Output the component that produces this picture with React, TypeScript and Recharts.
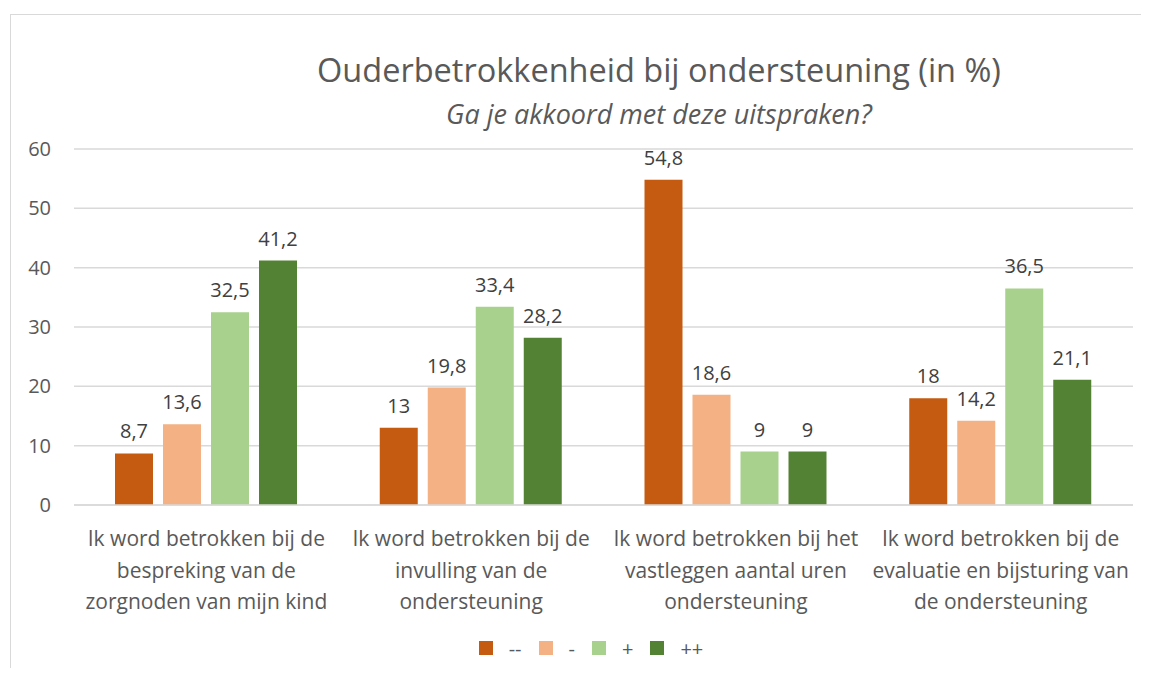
import React from "react";
import { BarChart, Bar, XAxis, YAxis, CartesianGrid, LabelList, Legend } from "recharts";

// Ouderbetrokkenheid bij ondersteuning — grouped bars, four answer levels per statement.

const categories = [
  "Ik word betrokken bij de\nbespreking van de\nzorgnoden van mijn kind",
  "Ik word betrokken bij de\ninvulling van de\nondersteuning",
  "Ik word betrokken bij het\nvastleggen aantal uren\nondersteuning",
  "Ik word betrokken bij de\nevaluatie en bijsturing van\nde ondersteuning",
];
const veryNegative = [8.7, 13, 54.8, 18];
const negative = [13.6, 19.8, 18.6, 14.2];
const positive = [32.5, 33.4, 9, 36.5];
const veryPositive = [41.2, 28.2, 9, 21.1];
const yTicks = [0, 10, 20, 30, 40, 50, 60];

const series = [
  { key: "vn", name: "--", color: "#C55A11" },
  { key: "n", name: "-", color: "#F4B183" },
  { key: "p", name: "+", color: "#A9D18E" },
  { key: "vp", name: "++", color: "#548235" },
];

const data = categories.map((c, i) => ({
  cat: c,
  vn: veryNegative[i],
  n: negative[i],
  p: positive[i],
  vp: veryPositive[i],
}));

const FONT = "'Open Sans', sans-serif";
const fmt = (v: any) => String(v).replace(".", ",");

function CatTick({ x, y, payload }: any) {
  const lines = String(payload.value).split("\n");
  return (
    <text x={x} y={y} textAnchor="middle" fill="#595959" fontSize={21} fontFamily={FONT}>
      {lines.map((l, i) => (
        <tspan key={i} x={x} dy={i === 0 ? 33 : 31.5}>
          {l}
        </tspan>
      ))}
    </text>
  );
}

function LegendBox() {
  return (
    <div style={{ display: "flex", justifyContent: "center", alignItems: "center", gap: 17, paddingLeft: 41, height: 24, fontFamily: FONT, fontSize: 20, color: "#595959" }}>
      {series.map((s) => (
        <div key={s.key} style={{ display: "flex", alignItems: "center" }}>
          <span style={{ width: 14, height: 14, background: s.color, display: "inline-block", marginRight: 16 }} />
          <span>{s.name}</span>
        </div>
      ))}
    </div>
  );
}

export default function App() {
  return (
    <div style={{ position: "relative", width: 1141, height: 660, fontFamily: FONT }}>
      <div style={{ position: "absolute", left: 2, top: 6, right: -20, bottom: -20, borderTop: "1px solid #d9d9d9", borderLeft: "1px solid #d9d9d9" }} />
      <div style={{ position: "absolute", left: 151, width: 1000, top: 42, textAlign: "center", fontSize: 32.5, color: "#595959", whiteSpace: "nowrap", lineHeight: "40px" }}>
        Ouderbetrokkenheid bij ondersteuning (in %)
      </div>
      <div style={{ position: "absolute", left: 151, width: 1000, top: 91, textAlign: "center", fontSize: 27, fontStyle: "italic", color: "#595959", whiteSpace: "nowrap", lineHeight: "30px" }}>
        Ga je akkoord met deze uitspraken?
      </div>
      <BarChart
        width={1141}
        height={660}
        data={data}
        margin={{ top: 141, right: 16, bottom: 8, left: 0 }}
        barSize={38}
        barGap={10}
        style={{ position: "absolute", left: 0, top: 0 }}
      >
        <CartesianGrid vertical={false} stroke="#d9d9d9" strokeWidth={1.5} />
        <XAxis dataKey="cat" height={131} axisLine={{ stroke: "#d9d9d9", strokeWidth: 1.5 }} tickLine={false} tick={<CatTick />} interval={0} />
        <YAxis
          width={66}
          domain={[0, 60]}
          ticks={yTicks}
          axisLine={false}
          tickLine={false}
          tickSize={0}
          tickMargin={23}
          tick={{ fill: "#595959", fontSize: 20, fontFamily: FONT }}
        />
        <Legend verticalAlign="bottom" content={<LegendBox />} />
        {series.map((s) => (
          <Bar key={s.key} dataKey={s.key} name={s.name} fill={s.color} isAnimationActive={false}>
            <LabelList dataKey={s.key} position="top" offset={15} formatter={fmt} fill="#404040" fontSize={20} fontFamily={FONT} />
          </Bar>
        ))}
      </BarChart>
    </div>
  );
}
